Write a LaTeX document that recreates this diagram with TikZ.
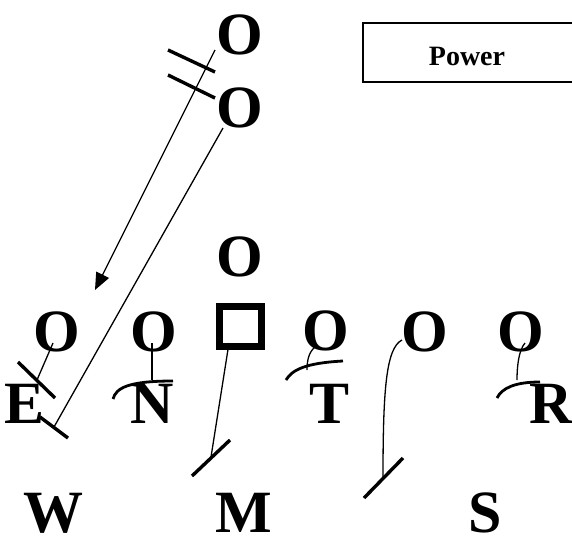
\documentclass[tikz,border=0pt]{standalone}
\usepackage{fontspec}
\setmainfont{Liberation Serif}
\usetikzlibrary{arrows.meta}
\begin{document}
\begin{tikzpicture}[x=1pt,y=-1pt,
  player/.style={font=\fontsize{60}{60}\selectfont\bfseries, inner sep=0pt, anchor=base},
  route/.style={line width=1.3pt},
  blockmark/.style={line width=3.4pt},
  blockarc/.style={line width=2.8pt},
  centerbox/.style={draw, line width=7pt, minimum width=42pt, minimum height=40pt, inner sep=0pt},
]
\useasboundingbox (0,0) rectangle (572,538);

% play name box (runs off the right edge)
\draw[line width=1.4pt] (580,23) -| (363,82) -- (580,82);
\node[font=\fontsize{28}{28}\selectfont\bfseries, inner sep=0pt, anchor=base] (title) at (467,65) {Power};

% backfield
\node[player] (o1) at (240,54) {O};
\node[player] (o2) at (240,127) {O};
\node[player] (qb) at (240,276) {O};

% line
\node[centerbox] (sq) at (240.5,326.5) {};
\node[player] (ol1) at (57,351) {O};
\node[player] (ol2) at (154,351) {O};
\node[player] (ol3) at (326,350) {O};
\node[player] (ol4) at (425,351) {O};
\node[player] (ol5) at (521,351) {O};

% defensive front
\node[player] (de) at (25,423) {E};
\node[player] (dn) at (152,423) {N};
\node[player] (dt) at (330,423) {T};
\node[player] (dr) at (551,423) {R};

% linebackers
\node[player] (lw) at (53,532) {W};
\node[player] (lm) at (244,532) {M};
\node[player] (ls) at (485,532) {S};

% route and block end points
\coordinate (arrowtip) at (95,290);
\coordinate (h1a) at (168,50);  \coordinate (h1b) at (215,72);
\coordinate (h2a) at (168,75);  \coordinate (h2b) at (215,98);
\coordinate (kickend) at (54,427);
\coordinate (kb1) at (40,417);  \coordinate (kb2) at (68,438);
\coordinate (eend) at (37,380);
\coordinate (eb1) at (18,362);  \coordinate (eb2) at (55,398);
\coordinate (nend) at (152,380);
\coordinate (na1) at (113,399); \coordinate (na2) at (173,381);
\coordinate (mend) at (211,457);
\coordinate (mb1) at (192,476); \coordinate (mb2) at (230,440);
\coordinate (tend) at (307,370);
\coordinate (ta1) at (286,380); \coordinate (ta2) at (343,361);
\coordinate (send) at (383,478);
\coordinate (sb1) at (364,498); \coordinate (sb2) at (403,458);
\coordinate (rend) at (517,380);
\coordinate (ra1) at (497,398); \coordinate (ra2) at (540,382);

% motion back with hash marks
\draw[route,-{Triangle[length=17pt,width=14pt]}] ([shift={(-25,-4)}]o1.base) -- (arrowtip);
\draw[blockmark] (h1a) -- (h1b);
\draw[blockmark] (h2a) -- (h2b);

% kick-out by the second back
\draw[route] ([shift={(-17,1)}]o2.base) -- (kickend);
\draw[blockmark] (kb1) -- (kb2);

% line blocks
\draw[route] ([shift={(-4,-8)}]ol1.base) -- (eend);
\draw[blockmark] (eb1) -- (eb2);

\draw[route] ([shift={(-2,-8)}]ol2.base) -- (nend);
\draw[blockarc] (na1) .. controls (116,388) and (128,381) .. (na2);

\draw[route] ([shift={(-11.5,16.5)}]sq.center) -- (mend);
\draw[blockmark] (mb1) -- (mb2);

\draw[route] ([shift={(-11,-3)}]ol3.base) .. controls (309,352) and (307,360) .. (tend);
\draw[blockarc] (ta1) .. controls (292,370) and (305,363) .. (ta2);

\draw[route] ([shift={(-23,-11)}]ol4.base) .. controls (386,348) and (383,390) .. (send);
\draw[blockmark] (sb1) -- (sb2);

\draw[route] ([shift={(4,-8)}]ol5.base) .. controls (519,350) and (517,365) .. (rend);
\draw[blockarc] (ra1) .. controls (502,388) and (515,382) .. (ra2);
\end{tikzpicture}
\end{document}
